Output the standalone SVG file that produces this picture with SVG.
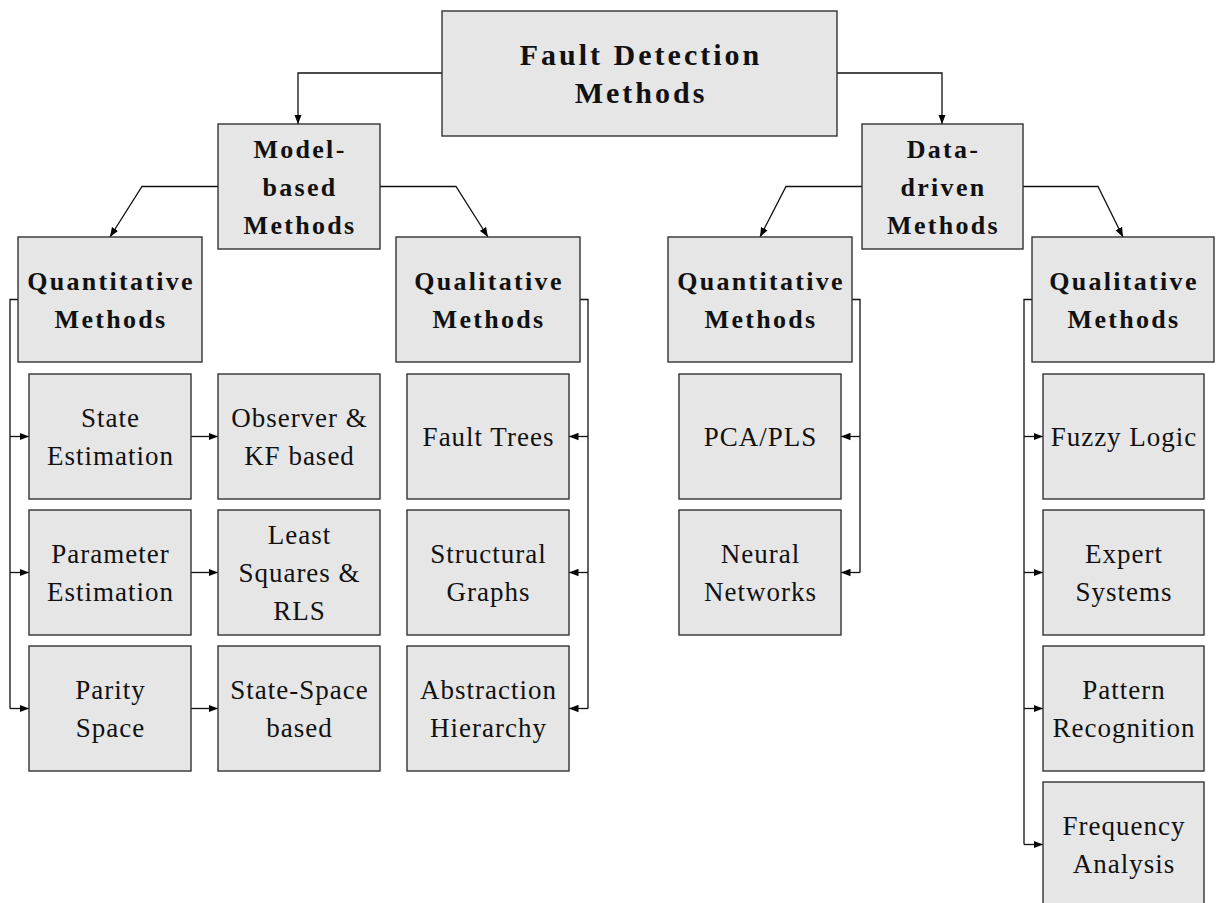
<svg xmlns="http://www.w3.org/2000/svg" width="1219" height="903" viewBox="0 0 1219 903">
  <defs>
    <marker id="arr" viewBox="0 0 10 8" markerWidth="10" markerHeight="8" refX="9.5" refY="4" orient="auto" markerUnits="userSpaceOnUse">
      <path d="M0,0.3 L9.5,4 L0,7.7 z" fill="#000"/>
    </marker>
    <style>
      .box { fill: #e6e6e6; stroke: #333; stroke-width: 1.4; }
      .wire { fill: none; stroke: #111; stroke-width: 1.3; marker-end: url(#arr); }
      .plain { fill: none; stroke: #111; stroke-width: 1.3; }
      text { font-family: "Liberation Serif", "DejaVu Serif", serif; fill: #111; text-anchor: middle; }
      .title { font-size: 30px; font-weight: bold; letter-spacing: 3px; }
      .head { font-size: 26px; font-weight: bold; letter-spacing: 2.3px; }
      .leaf { font-size: 27px; letter-spacing: 1px; }
    </style>
  </defs>
  <rect width="1219" height="903" fill="#fff"/>

  <!-- connectors -->
  <g id="connectors">
    <!-- root to the two families -->
    <path class="wire" d="M442,73 H298 V124"/>
    <path class="wire" d="M837,73 H942 V124"/>
    <!-- model-based split -->
    <path class="wire" d="M218,186.5 H142 L110,237"/>
    <path class="wire" d="M380,186.5 H456 L488,237"/>
    <!-- data-driven split -->
    <path class="wire" d="M862,186.5 H786 L760,237"/>
    <path class="wire" d="M1023,186.5 H1098 L1123,237"/>

    <!-- model-based quantitative bus -->
    <path class="plain" d="M18,299.5 H10 V708.5"/>
    <path class="wire" d="M10,436.5 H29"/>
    <path class="wire" d="M10,572.5 H29"/>
    <path class="wire" d="M10,708.5 H29"/>
    <path class="wire" d="M191,436.5 H218"/>
    <path class="wire" d="M191,572.5 H218"/>
    <path class="wire" d="M191,708.5 H218"/>

    <!-- model-based qualitative bus -->
    <path class="plain" d="M580,299.5 H588 V708.5"/>
    <path class="wire" d="M588,436.5 H569"/>
    <path class="wire" d="M588,572.5 H569"/>
    <path class="wire" d="M588,708.5 H569"/>

    <!-- data-driven quantitative bus -->
    <path class="plain" d="M852,299.5 H860 V572.5"/>
    <path class="wire" d="M860,436.5 H841"/>
    <path class="wire" d="M860,572.5 H841"/>

    <!-- data-driven qualitative bus -->
    <path class="plain" d="M1032,299.5 H1024 V844.5"/>
    <path class="wire" d="M1024,436.5 H1043"/>
    <path class="wire" d="M1024,572.5 H1043"/>
    <path class="wire" d="M1024,708.5 H1043"/>
    <path class="wire" d="M1024,844.5 H1043"/>
  </g>

  <!-- root -->
  <g id="root">
    <rect class="box" x="442" y="11" width="395" height="125"/>
    <text class="title" x="641" y="64.5">Fault Detection</text>
    <text class="title" x="641" y="102.5">Methods</text>
  </g>

  <!-- families -->
  <g id="model-based">
    <rect class="box" x="218" y="124" width="162" height="125"/>
    <text class="head" x="300" y="157.5">Model-</text>
    <text class="head" x="300" y="195.5">based</text>
    <text class="head" x="300" y="233.5">Methods</text>
  </g>
  <g id="data-driven">
    <rect class="box" x="862" y="124" width="161" height="125"/>
    <text class="head" x="943.5" y="157.5">Data-</text>
    <text class="head" x="943.5" y="195.5">driven</text>
    <text class="head" x="943.5" y="233.5">Methods</text>
  </g>

  <!-- categories -->
  <g id="mb-quantitative">
    <rect class="box" x="18" y="237" width="184" height="125"/>
    <text class="head" x="111" y="289.5">Quantitative</text>
    <text class="head" x="111" y="327.5">Methods</text>
  </g>
  <g id="mb-qualitative">
    <rect class="box" x="396" y="237" width="184" height="125"/>
    <text class="head" x="489" y="289.5">Qualitative</text>
    <text class="head" x="489" y="327.5">Methods</text>
  </g>
  <g id="dd-quantitative">
    <rect class="box" x="668" y="237" width="184" height="125"/>
    <text class="head" x="761" y="289.5">Quantitative</text>
    <text class="head" x="761" y="327.5">Methods</text>
  </g>
  <g id="dd-qualitative">
    <rect class="box" x="1032" y="237" width="182" height="125"/>
    <text class="head" x="1124" y="289.5">Qualitative</text>
    <text class="head" x="1124" y="327.5">Methods</text>
  </g>

  <!-- model-based quantitative leaves -->
  <g id="state-estimation">
    <rect class="box" x="29" y="374" width="162" height="125"/>
    <text class="leaf" x="110.5" y="426.5">State</text>
    <text class="leaf" x="110.5" y="464.5">Estimation</text>
  </g>
  <g id="observer-kf">
    <rect class="box" x="218" y="374" width="162" height="125"/>
    <text class="leaf" x="299.5" y="426.5">Observer &amp;</text>
    <text class="leaf" x="299.5" y="464.5">KF based</text>
  </g>
  <g id="parameter-estimation">
    <rect class="box" x="29" y="510" width="162" height="125"/>
    <text class="leaf" x="110.5" y="562.5">Parameter</text>
    <text class="leaf" x="110.5" y="600.5">Estimation</text>
  </g>
  <g id="least-squares">
    <rect class="box" x="218" y="510" width="162" height="125"/>
    <text class="leaf" x="299.5" y="543.5">Least</text>
    <text class="leaf" x="299.5" y="581.5">Squares &amp;</text>
    <text class="leaf" x="299.5" y="619.5">RLS</text>
  </g>
  <g id="parity-space">
    <rect class="box" x="29" y="646" width="162" height="125"/>
    <text class="leaf" x="110.5" y="698.5">Parity</text>
    <text class="leaf" x="110.5" y="736.5">Space</text>
  </g>
  <g id="state-space">
    <rect class="box" x="218" y="646" width="162" height="125"/>
    <text class="leaf" x="299.5" y="698.5">State-Space</text>
    <text class="leaf" x="299.5" y="736.5">based</text>
  </g>

  <!-- model-based qualitative leaves -->
  <g id="fault-trees">
    <rect class="box" x="407" y="374" width="162" height="125"/>
    <text class="leaf" x="488.5" y="445.5">Fault Trees</text>
  </g>
  <g id="structural-graphs">
    <rect class="box" x="407" y="510" width="162" height="125"/>
    <text class="leaf" x="488.5" y="562.5">Structural</text>
    <text class="leaf" x="488.5" y="600.5">Graphs</text>
  </g>
  <g id="abstraction-hierarchy">
    <rect class="box" x="407" y="646" width="162" height="125"/>
    <text class="leaf" x="488.5" y="698.5">Abstraction</text>
    <text class="leaf" x="488.5" y="736.5">Hierarchy</text>
  </g>

  <!-- data-driven quantitative leaves -->
  <g id="pca-pls">
    <rect class="box" x="679" y="374" width="162" height="125"/>
    <text class="leaf" x="760.5" y="445.5">PCA/PLS</text>
  </g>
  <g id="neural-networks">
    <rect class="box" x="679" y="510" width="162" height="125"/>
    <text class="leaf" x="760.5" y="562.5">Neural</text>
    <text class="leaf" x="760.5" y="600.5">Networks</text>
  </g>

  <!-- data-driven qualitative leaves -->
  <g id="fuzzy-logic">
    <rect class="box" x="1043" y="374" width="161" height="125"/>
    <text class="leaf" x="1124" y="445.5">Fuzzy Logic</text>
  </g>
  <g id="expert-systems">
    <rect class="box" x="1043" y="510" width="161" height="125"/>
    <text class="leaf" x="1124" y="562.5">Expert</text>
    <text class="leaf" x="1124" y="600.5">Systems</text>
  </g>
  <g id="pattern-recognition">
    <rect class="box" x="1043" y="646" width="161" height="125"/>
    <text class="leaf" x="1124" y="698.5">Pattern</text>
    <text class="leaf" x="1124" y="736.5">Recognition</text>
  </g>
  <g id="frequency-analysis">
    <rect class="box" x="1043" y="782" width="161" height="125"/>
    <text class="leaf" x="1124" y="834.5">Frequency</text>
    <text class="leaf" x="1124" y="872.5">Analysis</text>
  </g>
</svg>
